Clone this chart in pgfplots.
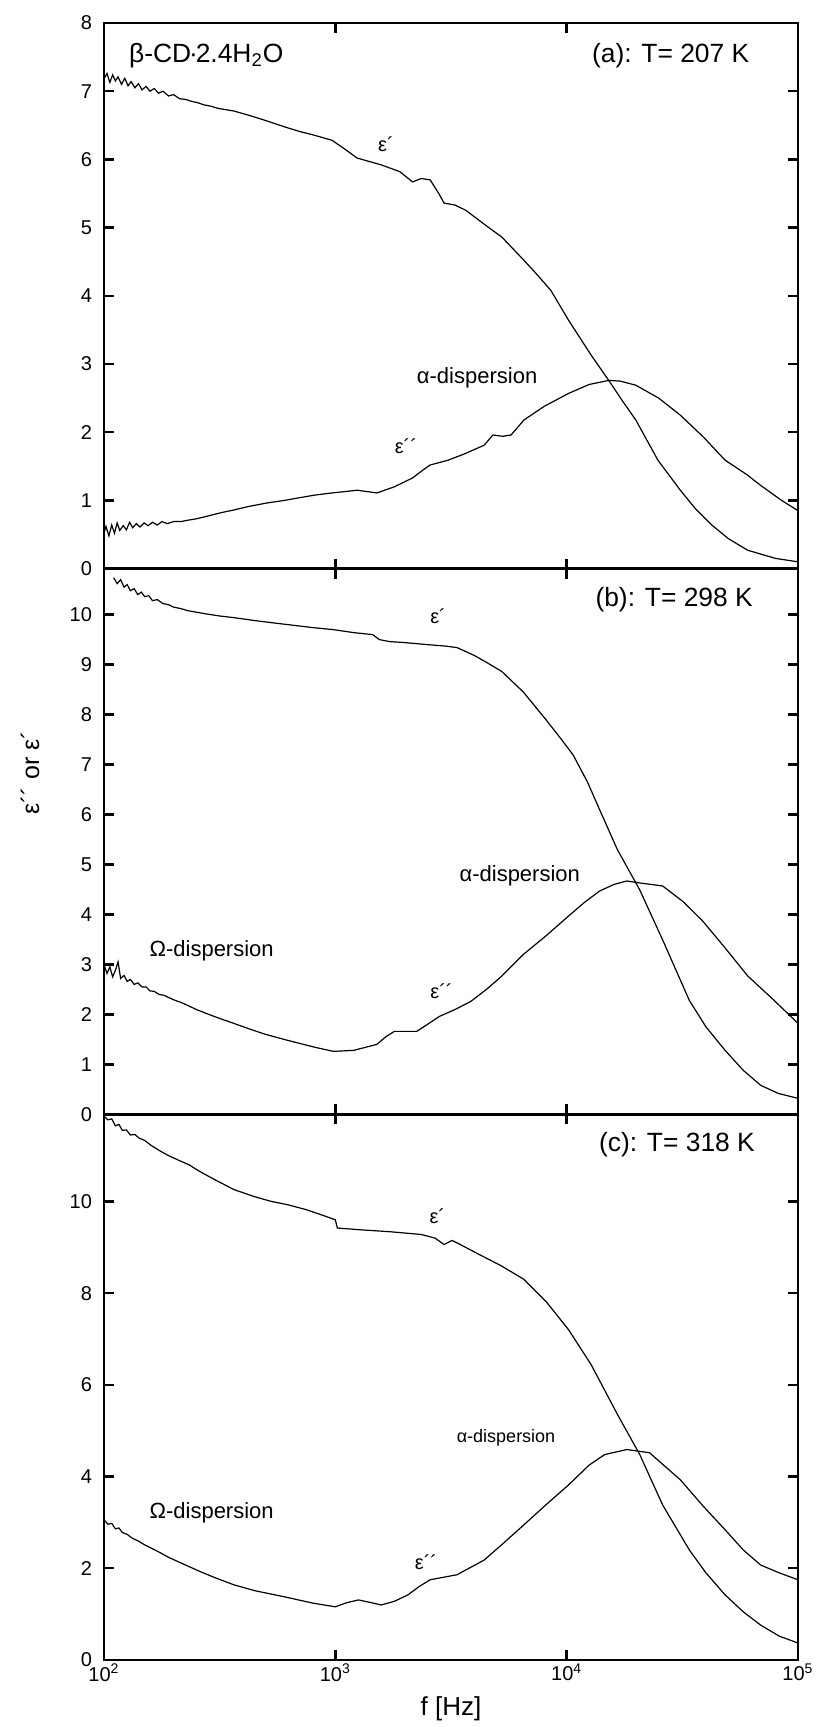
\documentclass[border=0pt]{standalone}
\usepackage{fontspec}
\setmainfont{Liberation Sans}
\usepackage{pgfplots}
\pgfplotsset{compat=1.18}
\newcommand{\panelfont}{\fontsize{13.2}{16}\selectfont}
\newcommand{\dispfont}{\fontsize{11}{13}\selectfont}
\newcommand{\epsfont}{\fontsize{10}{12}\selectfont}
\pgfplotsset{
  panel/.style={
    scale only axis, width=347pt, height=272.83pt,
    xmin=100, xmax=100000,
    xtick={100,1000,10000,100000},
    xminorticks=false, yminorticks=false,
    tick align=inside, major tick length=5pt,
    axis line style={line width=1.4pt},
    every tick/.style={line width=1.2pt, black},
    /pgf/number format/assume math mode=true,
    tick label style={font=\fontsize{10}{12}\selectfont},
    yticklabel style={xshift=-2.5pt},
  },
  curve/.style={black, line width=0.6pt, mark=none},
}
\begin{document}
\begin{tikzpicture}
\useasboundingbox (-52pt,11.5pt) rectangle (359.5pt,-852pt);
% ---------------- panel (a)
\begin{semilogxaxis}[panel, at={(0pt,0pt)}, anchor=north west,
  ymin=0, ymax=8, ytick={0,1,...,8}, xticklabels={}]
\addplot[curve] coordinates {
(100,7.18)(103,7.26)(106,7.13)(109,7.24)(112,7.15)(115,7.21)(119,7.10)(123,7.19)(127,7.08)(131,7.14)
(136,7.05)(141,7.11)(146,7.02)(152,7.07)(158,7.00)(165,7.04)(172,6.97)(180,7.00)(190,6.93)(200,6.95)
(212,6.89)(225,6.88)(240,6.85)(255,6.83)(270,6.80)(290,6.78)(310,6.75)(335,6.73)(364,6.71)(420,6.65)
(500,6.57)(600,6.48)(700,6.41)(800,6.36)(880,6.32)(968,6.28)(1100,6.15)(1242,6.02)(1400,5.97)(1578,5.92)
(1900,5.82)(2157,5.67)(2350,5.72)(2570,5.70)(2800,5.50)(2950,5.36)(3300,5.33)(3680,5.25)(4400,5.05)
(5250,4.86)(6540,4.52)(7500,4.30)(8540,4.08)(10200,3.64)(12760,3.13)(15200,2.76)(17500,2.45)(19900,2.18)
(24800,1.59)(31000,1.15)(36000,0.88)(42400,0.64)(50000,0.44)(60600,0.27)(80000,0.15)(100000,0.10)
};
\addplot[curve] coordinates {
(100,0.52)(102,0.62)(105,0.48)(108,0.64)(111,0.52)(114,0.67)(117,0.56)(121,0.63)(125,0.57)(129,0.68)
(133,0.60)(138,0.66)(143,0.61)(149,0.67)(155,0.63)(162,0.68)(170,0.64)(178,0.69)(188,0.66)(200,0.69)
(215,0.69)(230,0.71)(250,0.73)(280,0.77)(320,0.82)(364,0.86)(420,0.91)(500,0.96)(600,1.00)(700,1.04)
(820,1.08)(968,1.11)(1100,1.13)(1242,1.15)(1513,1.11)(1800,1.20)(2157,1.33)(2400,1.45)(2570,1.52)
(3070,1.59)(3600,1.68)(4400,1.81)(4800,1.96)(5300,1.94)(5750,1.96)(6540,2.18)(8000,2.38)(10200,2.57)
(12500,2.70)(15200,2.76)(17000,2.75)(19900,2.69)(25000,2.50)(31000,2.25)(39000,1.93)(48400,1.59)
(60000,1.38)(69000,1.22)(85000,1.00)(100000,0.85)
};
\node[anchor=west, font=\panelfont] at (axis description cs:0.026,0.941) {β-CD{\kern-0.08em}·{\kern-0.08em}2.4H\textsubscript{2}O};
\node[anchor=east, font=\panelfont] at (axis description cs:0.94,0.941) {(a): T= 207 K};
\node[font=\epsfont] at (axis cs:1656,6.22) {ε´};
\node[font=\dispfont] at (axis cs:4100,2.8) {α-dispersion};
\node[font=\epsfont] at (axis cs:2018,1.8) {ε´´};
\end{semilogxaxis}
% ---------------- panel (b)
\begin{semilogxaxis}[panel, at={(0pt,-272.83pt)}, anchor=north west,
  ymin=0, ymax=10.92, ytick={0,1,...,10}, xticklabels={},
  ylabel={ε´´ or ε´},
  ylabel style={at={(axis description cs:-0.1066,0.6257)}, anchor=center, font=\fontsize{12.5}{14}\selectfont}]
\addplot[curve] coordinates {
(110,10.74)(114,10.62)(118,10.70)(122,10.55)(126,10.60)(130,10.48)(135,10.52)(140,10.40)(145,10.45)
(150,10.36)(156,10.38)(162,10.28)(170,10.30)(180,10.22)(190,10.20)(200,10.15)(215,10.12)(230,10.08)
(250,10.05)(280,10.01)(320,9.97)(364,9.94)(450,9.88)(550,9.83)(650,9.79)(800,9.74)(980,9.70)(1200,9.64)
(1450,9.60)(1550,9.50)(1720,9.46)(2000,9.44)(2500,9.40)(3000,9.37)(3360,9.34)(4000,9.18)(4600,9.02)
(5250,8.86)(6500,8.45)(8130,7.90)(9500,7.50)(10670,7.19)(12300,6.65)(13900,6.09)(16600,5.29)(20700,4.49)
(26000,3.49)(33900,2.28)(40000,1.75)(48400,1.28)(58000,0.88)(69000,0.58)(82000,0.42)(100000,0.32)
};
\addplot[curve] coordinates {
(100,3.00)(103,2.82)(106,2.95)(109,2.75)(112,2.88)(115,3.05)(118,2.72)(122,2.78)(126,2.66)(130,2.70)
(135,2.60)(140,2.63)(146,2.55)(152,2.55)(158,2.47)(165,2.46)(173,2.40)(182,2.38)(192,2.33)(203,2.28)
(215,2.24)(230,2.18)(250,2.10)(280,2.01)(320,1.91)(364,1.82)(430,1.70)(500,1.60)(600,1.50)(700,1.42)
(820,1.34)(980,1.26)(1200,1.28)(1513,1.40)(1650,1.55)(1800,1.66)(2250,1.66)(2500,1.80)(2820,1.96)
(3300,2.10)(3850,2.26)(4500,2.50)(5250,2.77)(6500,3.20)(8130,3.57)(10200,3.97)(12000,4.25)(13900,4.47)
(16000,4.60)(18200,4.67)(20700,4.63)(26000,4.57)(32000,4.25)(38700,3.87)(48000,3.35)(60600,2.77)
(78000,2.30)(100000,1.82)
};
\node[anchor=east, font=\panelfont] at (axis description cs:0.945,0.943) {(b): T= 298 K};
\node[font=\epsfont] at (axis cs:2780,9.96) {ε´};
\node[font=\dispfont] at (axis cs:6270,4.77) {α-dispersion};
\node[font=\dispfont] at (axis cs:292,3.27) {Ω-dispersion};
\node[font=\epsfont] at (axis cs:2877,2.46) {ε´´};
\end{semilogxaxis}
% ---------------- panel (c)
\begin{semilogxaxis}[panel, at={(0pt,-545.66pt)}, anchor=north west,
  ymin=0, ymax=11.9, ytick={0,2,...,10},
  xticklabels={10\textsuperscript{2},10\textsuperscript{3},10\textsuperscript{4},10\textsuperscript{5}},
  xticklabel style={yshift=1.5pt},
  xlabel={f [Hz]},
  xlabel style={at={(axis description cs:0.5,0)}, anchor=center, yshift=-24.5pt, font=\fontsize{13}{15}\selectfont}]
\addplot[curve] coordinates {
(100,11.86)(104,11.78)(108,11.80)(112,11.65)(116,11.68)(120,11.55)(125,11.56)(130,11.45)(136,11.46)
(142,11.38)(150,11.33)(160,11.22)(175,11.10)(190,11.00)(210,10.90)(233,10.80)(260,10.65)(300,10.48)
(364,10.26)(450,10.10)(530,10.00)(621,9.93)(750,9.82)(880,9.70)(1000,9.60)(1020,9.42)(1300,9.38)
(1720,9.34)(2350,9.28)(2700,9.20)(2950,9.06)(3200,9.15)(3500,9.05)(4200,8.84)(5200,8.60)(6540,8.30)
(8200,7.80)(10200,7.20)(12760,6.44)(16600,5.35)(20700,4.48)(26000,3.38)(33900,2.40)(40000,1.90)
(48400,1.42)(58000,1.05)(69000,0.76)(83000,0.52)(100000,0.37)
};
\addplot[curve] coordinates {
(100,3.06)(104,2.96)(108,2.98)(112,2.86)(116,2.88)(120,2.78)(126,2.74)(132,2.66)(140,2.60)(150,2.51)
(160,2.44)(175,2.34)(190,2.24)(210,2.14)(230,2.05)(260,1.93)(300,1.80)(364,1.64)(450,1.51)(600,1.38)
(800,1.24)(1000,1.16)(1120,1.25)(1260,1.31)(1400,1.26)(1580,1.20)(1800,1.28)(2060,1.42)(2300,1.60)
(2570,1.75)(3360,1.86)(4400,2.18)(5200,2.50)(6540,2.95)(8200,3.40)(10200,3.82)(12500,4.25)(14600,4.48)
(18200,4.59)(22800,4.52)(31000,3.93)(39000,3.35)(48400,2.84)(58000,2.40)(69000,2.07)(83000,1.90)
(100000,1.75)
};
\node[anchor=east, font=\panelfont] at (axis description cs:0.948,0.944) {(c): T= 318 K};
\node[font=\epsfont] at (axis cs:2760,9.68) {ε´};
\node[font=\fontsize{9}{11}\selectfont] at (axis cs:5470,4.85) {α-dispersion};
\node[font=\dispfont] at (axis cs:292,3.21) {Ω-dispersion};
\node[font=\epsfont] at (axis cs:2466,2.14) {ε´´};
\end{semilogxaxis}
\end{tikzpicture}
\end{document}
